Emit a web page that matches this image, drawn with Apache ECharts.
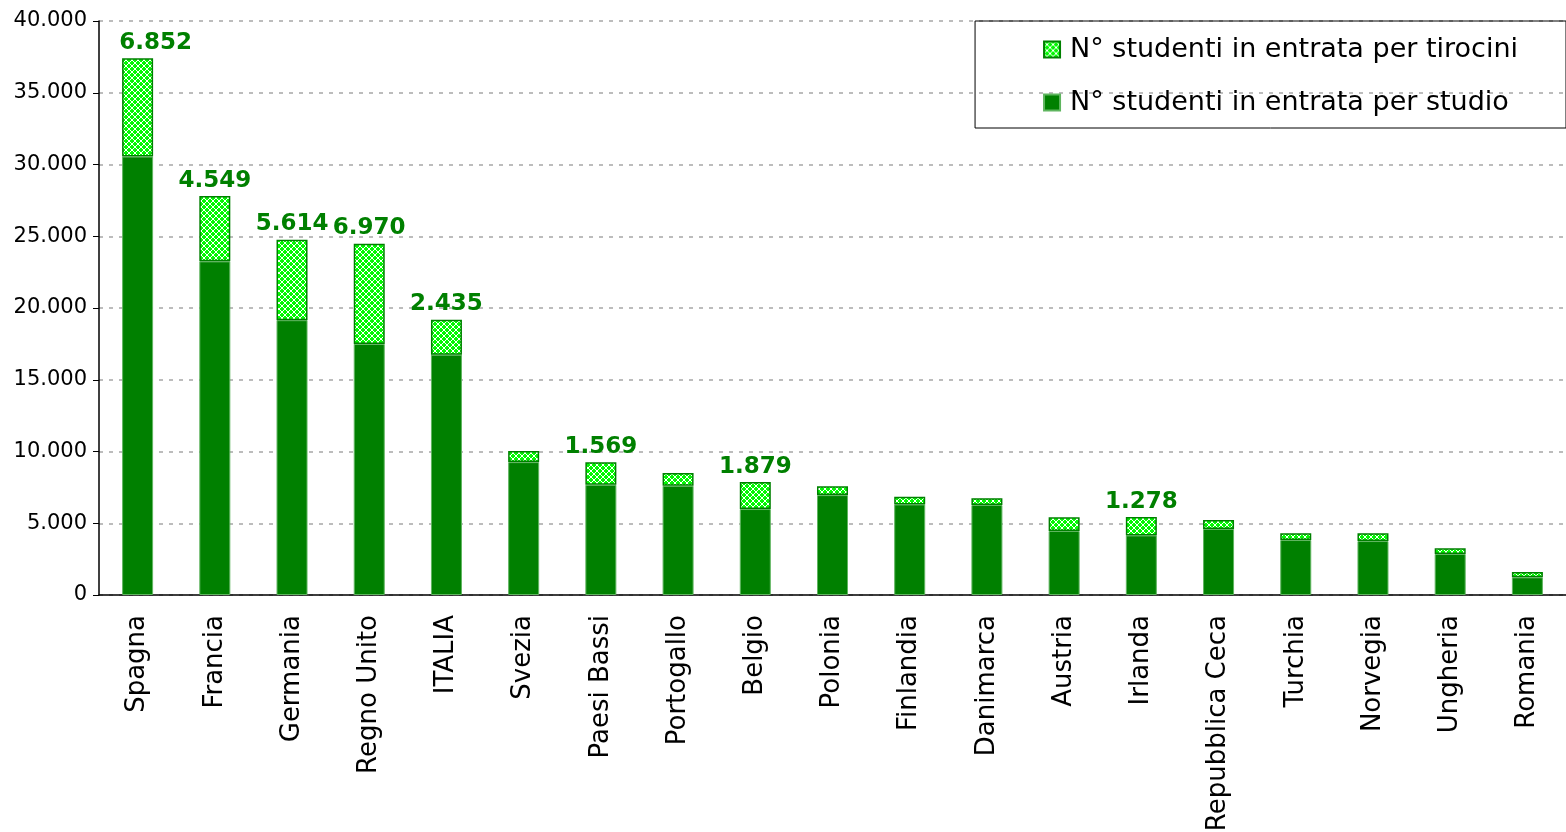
<!DOCTYPE html>
<html lang="it">
<head>
    <meta charset="UTF-8">
    <title>Studenti in entrata</title>
    <script src="https://cdn.jsdelivr.net/npm/echarts@6/dist/echarts.min.js"></script>
    <style>
        html, body { margin: 0; padding: 0; background: #fff; }
    </style>
</head>
<body>
<div id="main" style="width: 1566px;height:832px;"></div>
<script type="text/javascript">
    // dati
    var paesi = ['Spagna', 'Francia', 'Germania', 'Regno Unito', 'ITALIA', 'Svezia', 'Paesi Bassi',
        'Portogallo', 'Belgio', 'Polonia', 'Finlandia', 'Danimarca', 'Austria', 'Irlanda',
        'Repubblica Ceca', 'Turchia', 'Norvegia', 'Ungheria', 'Romania'];
    var studio = [30550, 23250, 19150, 17500, 16750, 9260, 7680, 7610, 5990, 6960,
        6310, 6270, 4460, 4150, 4600, 3830, 3760, 2860, 1230];
    var tirocini = [6852, 4549, 5614, 6970, 2435, 770, 1569, 890, 1879, 610,
        540, 480, 950, 1278, 620, 470, 540, 390, 370];
    // paesi con etichetta del valore tirocini
    var conEtichetta = ['Spagna', 'Francia', 'Germania', 'Regno Unito', 'ITALIA', 'Paesi Bassi', 'Belgio', 'Irlanda'];
    var yTicks = [0, 5000, 10000, 15000, 20000, 25000, 30000, 35000, 40000];

    function migliaia(v) {
        return String(v).replace(/\B(?=(\d{3})+(?!\d))/g, '.');
    }

    // retino verde chiaro per i tirocini
    var tile = document.createElement('canvas');
    tile.width = 6;
    tile.height = 6;
    var ctx = tile.getContext('2d');
    ctx.fillStyle = '#00ff00';
    ctx.fillRect(0, 0, 6, 6);
    ctx.strokeStyle = '#ffffff';
    ctx.lineWidth = 1;
    ctx.beginPath();
    ctx.moveTo(0, 0); ctx.lineTo(6, 6);
    ctx.moveTo(6, 0); ctx.lineTo(0, 6);
    ctx.stroke();
    ctx.fillStyle = '#20c020';
    ctx.fillRect(0, 3, 1, 1);
    ctx.fillRect(3, 0, 1, 1);
    var retino = { image: tile, repeat: 'repeat' };

    var datiTirocini = tirocini.map(function (v, i) {
        var item = { value: v };
        if (conEtichetta.indexOf(paesi[i]) >= 0) {
            item.label = { show: true };
            if (i === 0) item.label.offset = [18, 0];
        }
        return item;
    });

    var myChart = echarts.init(document.getElementById('main'));
    myChart.setOption({
        animation: false,
        textStyle: { fontFamily: 'DejaVu Sans, Verdana, sans-serif' },
        grid: { left: 99, right: 0, top: 21, bottom: 237, outerBoundsMode: 'none', containLabel: false },
        legend: {
            orient: 'vertical',
            right: 0,
            top: 21,
            padding: [15, 48, 12, 68],
            itemGap: 26,
            itemWidth: 16,
            itemHeight: 16,
            icon: 'rect',
            borderColor: '#000',
            borderWidth: 1,
            data: ['N° studenti in entrata per tirocini', 'N° studenti in entrata per studio'],
            textStyle: { fontSize: 27, color: '#000', padding: [0, 0, 0, 5] }
        },
        xAxis: {
            type: 'category',
            data: paesi,
            axisLine: { lineStyle: { color: '#000', width: 1.5 } },
            axisTick: { show: false },
            axisLabel: { rotate: 90, fontSize: 26, color: '#000', margin: 20, interval: 0 }
        },
        yAxis: {
            type: 'value',
            min: yTicks[0],
            max: yTicks[yTicks.length - 1],
            interval: 5000,
            axisLine: { show: true, lineStyle: { color: '#000', width: 1.5 } },
            axisTick: { show: true, length: 6, lineStyle: { color: '#000' } },
            axisLabel: { fontSize: 21, color: '#000', margin: 12, formatter: migliaia },
            splitLine: { lineStyle: { color: '#bcbcbc', width: 2, type: [4, 6] } }
        },
        series: [
            {
                name: 'N° studenti in entrata per studio',
                type: 'bar',
                stack: 'tot',
                barWidth: 31,
                data: studio,
                itemStyle: { color: '#008000', borderColor: '#5fb55f', borderWidth: 1 }
            },
            {
                name: 'N° studenti in entrata per tirocini',
                type: 'bar',
                stack: 'tot',
                barWidth: 31,
                data: datiTirocini,
                itemStyle: { color: retino, borderColor: '#008000', borderWidth: 1.5 },
                label: {
                    show: false,
                    position: 'top',
                    distance: 4,
                    fontSize: 23,
                    fontWeight: 'bold',
                    color: '#008000',
                    formatter: function (p) { return migliaia(p.value); }
                }
            }
        ]
    });
</script>
</body>
</html>
